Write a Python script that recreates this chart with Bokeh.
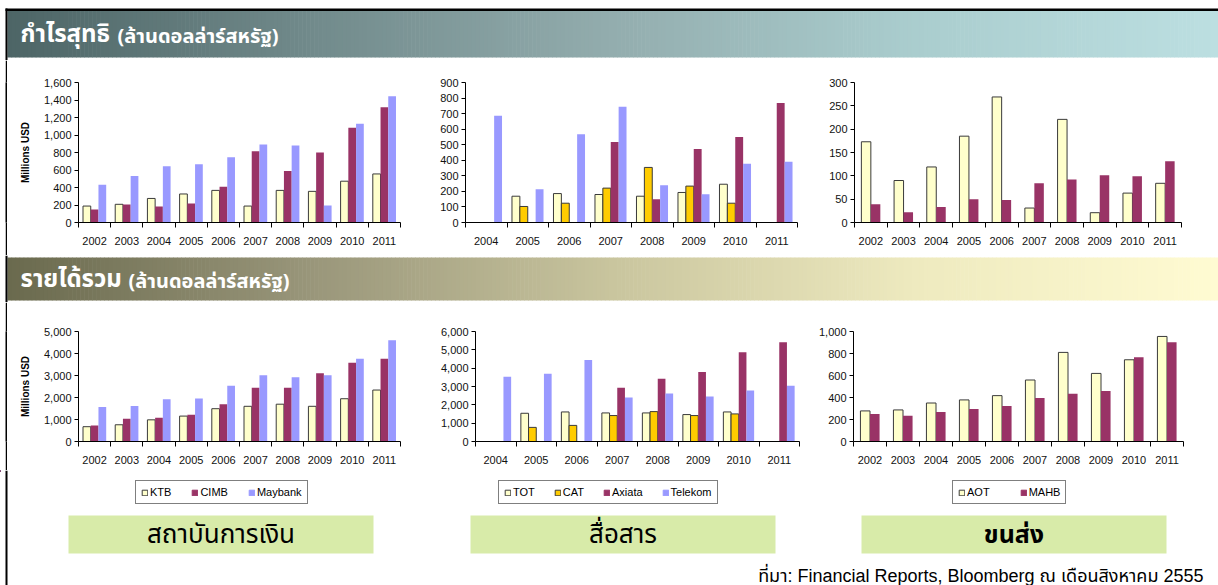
import numpy as np
from bokeh.plotting import figure
from bokeh.layouts import column, row
from bokeh.models import (Range1d, FixedTicker, NumeralTickFormatter, Legend,
                          LegendItem, ColumnDataSource, Spacer)
from bokeh.core.properties import value
from bokeh.embed import file_html
from bokeh.resources import INLINE

nan = float("nan")

# ---------------- data ----------------
years_fin = ["2002", "2003", "2004", "2005", "2006", "2007", "2008", "2009", "2010", "2011"]
years_tel = ["2004", "2005", "2006", "2007", "2008", "2009", "2010", "2011"]
years_trn = ["2002", "2003", "2004", "2005", "2006", "2007", "2008", "2009", "2010", "2011"]

fin_names = ["KTB", "CIMB", "Maybank"]
tel_names = ["TOT", "CAT", "Axiata", "Telekom"]
trn_names = ["AOT", "MAHB"]

# net profit (million USD)
profit_ktb = [188, 208, 275, 326, 367, 188, 367, 356, 472, 555]
profit_cimb = [150, 206, 184, 217, 408, 813, 588, 801, 1082, 1318]
profit_maybank = [431, 532, 644, 667, 745, 891, 880, 195, 1128, 1442]

profit_tot = [nan, 169, 186, 180, 169, 193, 246, nan]
profit_cat = [nan, 103, 124, 221, 354, 234, 124, nan]
profit_axiata = [nan, nan, nan, 517, 150, 472, 549, 769]
profit_telekom = [686, 214, 568, 744, 240, 182, 377, 390]

profit_aot = [173, 90, 119, 185, 269, 31, 221, 21, 63, 84]
profit_mahb = [39, 22, 33, 50, 48, 84, 92, 101, 99, 131]

# total revenue (million USD)
rev_ktb = [673, 760, 985, 1155, 1491, 1600, 1696, 1600, 1944, 2339]
rev_cimb = [731, 1038, 1082, 1213, 1696, 2442, 2442, 3099, 3582, 3757]
rev_maybank = [1564, 1608, 1915, 1959, 2529, 3012, 2924, 3012, 3757, 4605]

rev_tot = [nan, 1540, 1612, 1558, 1558, 1469, 1612, nan]
rev_cat = [nan, 770, 878, 1415, 1630, 1415, 1505, nan]
rev_axiata = [nan, nan, nan, 2937, 3421, 3797, 4872, 5409]
rev_telekom = [3528, 3690, 4442, 2400, 2615, 2454, 2776, 3045]

rev_aot = [278, 287, 350, 378, 417, 559, 810, 619, 743, 955]
rev_mahb = [251, 233, 269, 296, 323, 396, 435, 459, 767, 903]

# texts
header_profit = "กำไรสุทธิ"
header_revenue = "รายได้รวม"
header_unit = "(ล้านดอลล่าร์สหรัฐ)"
y_label = "Millions USD"
sector_names = ["สถาบันการเงิน", "สื่อสาร", "ขนส่ง"]
source_text = "ที่มา: Financial Reports, Bloomberg  ณ เดือนสิงหาคม 2555"

# styles
C_LIGHT = "#FFFFCC"
C_PLUM = "#993366"
C_LAV = "#9999FF"
C_GOLD = "#FFCC00"
OUTLINE = "#3a3a3a"
LATIN = "Liberation Sans"
THAI = "Noto Sans Thai, Noto Sans, Tahoma, sans-serif"
MIXED = "Liberation Sans, Noto Sans Thai, sans-serif"

fin_colors = [C_LIGHT, C_PLUM, C_LAV]
fin_lines = [OUTLINE, None, None]
tel_colors = [C_LIGHT, C_GOLD, C_PLUM, C_LAV]
tel_lines = [OUTLINE, OUTLINE, None, None]
trn_colors = [C_LIGHT, C_PLUM]
trn_lines = [OUTLINE, None]


def hex2rgb(h):
    h = h.lstrip("#")
    return [int(h[i:i + 2], 16) for i in (0, 2, 4)]


def interp(stops, t):
    for (t0, c0), (t1, c1) in zip(stops[:-1], stops[1:]):
        if t0 <= t <= t1:
            f = (t - t0) / (t1 - t0) if t1 > t0 else 0
            a, b = hex2rgb(c0), hex2rgb(c1)
            return "#%02x%02x%02x" % tuple(int(round(a[k] + (b[k] - a[k]) * f)) for k in range(3))
    return stops[-1][1]


def blank(width, height):
    p = figure(width=width, height=height,
               x_range=Range1d(0, width), y_range=Range1d(height, 0),
               output_backend="svg", toolbar_location=None, min_border=0,
               x_axis_location=None, y_axis_location=None, title=None)
    p.outline_line_color = None
    p.grid.visible = False
    p.background_fill_color = "white"
    p.border_fill_color = "white"
    return p


def gradient(p, x0, x1, y0, y1, stops, n=300):
    xs = np.linspace(x0, x1, n + 1)
    cols = [interp(stops, (i + 0.5) / n) for i in range(n)]
    p.quad(left=xs[:-1], right=xs[1:] + 0.6, bottom=y1, top=y0, fill_color=cols, line_color=None)


def header(height, band_top, band_bot, stops, big, small, small_x, top_line=False):
    p = blank(1218, height)
    gradient(p, 7, 1218, band_top, band_bot, stops)
    if top_line:
        p.quad(left=5, right=1218, top=8, bottom=10.5, fill_color="black", line_color=None)
        p.quad(left=5, right=7, top=8, bottom=height, fill_color="black", line_color=None)
    else:
        p.quad(left=5, right=7, top=0, bottom=height, fill_color="black", line_color=None)
    mid = (band_top + band_bot) / 2 + 1
    p.text(x=[20], y=[mid], text=[big], text_font=value(THAI), text_font_size="24px",
           text_font_style="bold", text_color="white", text_baseline="middle", text_align="left")
    p.text(x=[small_x], y=[mid + 2], text=[small], text_font=value(THAI), text_font_size="20px",
           text_font_style="bold", text_color="white", text_baseline="middle", text_align="left")
    return p


def black_edge(height):
    # a 2px wide, fully black plot (frame and border both black)
    p = figure(width=2, height=height, x_range=Range1d(0, 1), y_range=Range1d(0, 1),
               output_backend="svg", toolbar_location=None, min_border=0,
               x_axis_location=None, y_axis_location=None, title=None)
    p.outline_line_color = None
    p.grid.visible = False
    p.background_fill_color = "black"
    p.border_fill_color = "black"
    return p


def bar_chart(width, height, bl, br, bt, bb, cats, series, colors, lines, ymax, ystep, bar_w,
              ylabel=None):
    n = len(cats)
    p = figure(width=width, height=height,
               x_range=Range1d(-0.5, n - 0.5),
               y_range=Range1d(0, ymax), output_backend="svg", toolbar_location=None,
               min_border_left=bl, min_border_right=br, min_border_top=bt, min_border_bottom=bb,
               title=None)
    p.outline_line_color = None
    p.grid.visible = False
    k = len(series)
    for j, (vals, col, lc) in enumerate(zip(series, colors, lines)):
        off = (j - (k - 1) / 2.0) * bar_w
        src = ColumnDataSource(dict(x=np.arange(n) + off, top=np.array(vals, dtype=float)))
        p.vbar(x="x", top="top", width=bar_w, bottom=0, source=src, fill_color=col,
               line_color=lc, line_width=1)
    xa = p.xaxis[0]
    xa.ticker = FixedTicker(ticks=list(range(n)), minor_ticks=[i - 0.5 for i in range(n + 1)])
    xa.major_label_overrides = {i: c for i, c in enumerate(cats)}
    xa.major_tick_in = 0
    xa.major_tick_out = 0
    xa.minor_tick_in = 0
    xa.minor_tick_out = 5
    xa.minor_tick_line_color = "black"
    xa.axis_line_color = "black"
    xa.major_label_standoff = 9
    ya = p.yaxis[0]
    ya.ticker = FixedTicker(ticks=list(range(0, ymax + 1, ystep)))
    ya.formatter = NumeralTickFormatter(format="0,0")
    ya.major_tick_in = 0
    ya.major_tick_out = 4
    ya.major_tick_line_color = "black"
    ya.minor_tick_line_color = None
    ya.axis_line_color = "black"
    ya.major_label_standoff = 3
    for ax in (xa, ya):
        ax.major_label_text_font = LATIN
        ax.major_label_text_font_size = "11px"
        ax.major_label_text_color = "#111111"
    if ylabel:
        ya.axis_label = ylabel
        ya.axis_label_text_font = LATIN
        ya.axis_label_text_font_size = "10px"
        ya.axis_label_text_font_style = "bold"
        ya.axis_label_text_color = "black"
        ya.axis_label_standoff = 10
    return p


# ---------------- rows ----------------
h1 = header(60, 10, 57, [(0, "#4d6566"), (0.25, "#718a8b"), (0.5, "#93adae"),
                          (0.75, "#aacdce"), (1.0, "#bcdfe1")],
            header_profit, header_unit, 117, top_line=True)

c1 = bar_chart(413, 195, 71, 20, 21, 32, years_fin, [profit_ktb, profit_cimb, profit_maybank],
               fin_colors, fin_lines, 1600, 200, 0.24, y_label)
c2 = bar_chart(390, 195, 45, 13, 22, 33, years_tel,
               [profit_tot, profit_cat, profit_axiata, profit_telekom],
               tel_colors, tel_lines, 900, 100, 0.19)
c3 = bar_chart(408, 195, 44, 37, 22, 33, years_trn, [profit_aot, profit_mahb],
               trn_colors, trn_lines, 300, 50, 0.29)
row1 = row(Spacer(width=5, height=195), black_edge(195), c1, c2, c3, spacing=0)

h2 = header(47, 2, 45, [(0, "#6a6a4e"), (0.25, "#99967a"), (0.5, "#c9c59e"),
                         (0.75, "#eeeabf"), (1.0, "#fffbd2")],
            header_revenue, header_unit, 128)

c4 = bar_chart(413, 168, 71, 20, 25, 29, years_fin, [rev_ktb, rev_cimb, rev_maybank],
               fin_colors, fin_lines, 5000, 1000, 0.24, y_label)
c5 = bar_chart(390, 168, 55, 11, 28, 28, years_tel, [rev_tot, rev_cat, rev_axiata, rev_telekom],
               tel_colors, tel_lines, 6000, 1000, 0.19)
c6 = bar_chart(408, 168, 43, 35, 29, 29, years_trn, [rev_aot, rev_mahb],
               trn_colors, trn_lines, 1000, 200, 0.29)
row2 = row(Spacer(width=5, height=168), black_edge(168), c4, c5, c6, spacing=0)

# ---------------- bottom: legends, sector boxes, source ----------------
bt = blank(1218, 115)
bt.quad(left=5, right=7, top=0, bottom=115, fill_color="black", line_color=None)
box_left = [68, 470, 861]
box_right = [373, 775, 1166]
bt.quad(left=box_left, right=box_right, top=45, bottom=83, fill_color="#d8eba9", line_color=None)
centers = [(a + b) / 2 for a, b in zip(box_left, box_right)]
bt.text(x=centers[:2], y=[64, 64], text=sector_names[:2],
        text_font=value(THAI), text_font_size="26px", text_color="black",
        text_align="center", text_baseline="middle")
bt.text(x=centers[2:], y=[64], text=sector_names[2:],
        text_font=value(THAI), text_font_size="25px", text_font_style="bold", text_color="black",
        text_align="center", text_baseline="middle")
bt.text(x=[1208], y=[105], text=[source_text], text_font=value(MIXED), text_font_size="18px",
        text_color="black", text_align="right", text_baseline="middle")


def add_legend(names, colors, lines, loc, spacing):
    items = []
    for nm, col, lc in zip(names, colors, lines):
        r = bt.vbar(x=[-1000], top=[1], width=1, fill_color=col, line_color=lc or col)
        items.append(LegendItem(label=nm, renderers=[r]))
    lg = Legend(items=items, location=loc, orientation="horizontal", padding=5, spacing=spacing,
                glyph_width=7, glyph_height=7, label_standoff=2, label_height=12, label_width=0,
                label_text_font=LATIN, label_text_font_size="11px", label_text_color="black",
                border_line_color="black", border_line_width=1, background_fill_color="white",
                background_fill_alpha=1, margin=0)
    bt.add_layout(lg)


add_legend(fin_names, fin_colors, fin_lines, (135, 115 - 34), 20)
add_legend(tel_names, tel_colors, tel_lines, (498, 115 - 34), 19)
add_legend(trn_names, trn_colors, trn_lines, (952, 115 - 34), 30)

layout = column(h1, row1, h2, row2, bt, spacing=0)
open("out.html", "w").write(file_html(layout, INLINE))
